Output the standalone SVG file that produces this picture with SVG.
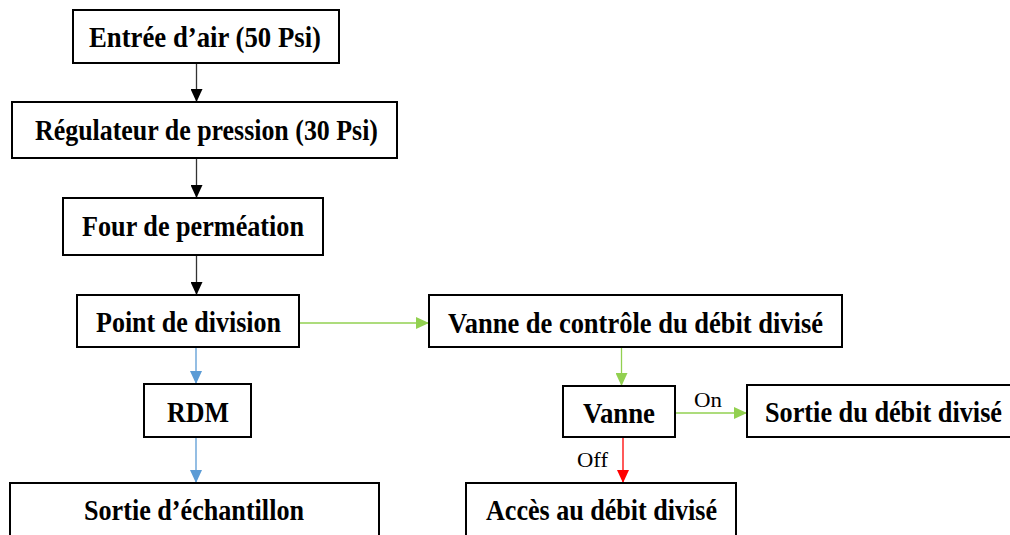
<svg xmlns="http://www.w3.org/2000/svg" width="1010" height="535" viewBox="0 0 1010 535">
<style>
.box{fill:#fff;stroke:#000;stroke-width:2}
.t{font-family:"Liberation Serif","Times New Roman",serif;font-weight:bold;font-size:30px;fill:#000}
.l{font-family:"Liberation Serif","Times New Roman",serif;font-size:21px;fill:#000}
.cb{stroke:#333;stroke-width:1.3;fill:none}
.cg{stroke:#92D050;stroke-width:1.3;fill:none}
.cu{stroke:#5B9BD5;stroke-width:1.3;fill:none}
.cr{stroke:#FF0000;stroke-width:1.3;fill:none}
</style>
<defs>
<marker id="ab" markerUnits="userSpaceOnUse" markerWidth="13" markerHeight="12" refX="13" refY="6" orient="auto"><path d="M0,0 L13,6 L0,12 z" fill="#000"/></marker>
<marker id="ag" markerUnits="userSpaceOnUse" markerWidth="13" markerHeight="12" refX="13" refY="6" orient="auto"><path d="M0,0 L13,6 L0,12 z" fill="#92D050"/></marker>
<marker id="au" markerUnits="userSpaceOnUse" markerWidth="13" markerHeight="12" refX="13" refY="6" orient="auto"><path d="M0,0 L13,6 L0,12 z" fill="#5B9BD5"/></marker>
<marker id="ar" markerUnits="userSpaceOnUse" markerWidth="13" markerHeight="12" refX="13" refY="6" orient="auto"><path d="M0,0 L13,6 L0,12 z" fill="#FF0000"/></marker>
</defs>
<g id="connectors">
<line class="cb" x1="196.5" y1="63" x2="196.5" y2="102" marker-end="url(#ab)"/>
<line class="cb" x1="196.5" y1="158" x2="196.5" y2="198" marker-end="url(#ab)"/>
<line class="cb" x1="196.5" y1="255" x2="196.5" y2="295" marker-end="url(#ab)"/>
<line class="cg" x1="300" y1="323" x2="429" y2="323" marker-end="url(#ag)"/>
<line class="cu" x1="196" y1="347" x2="196" y2="384" marker-end="url(#au)"/>
<line class="cu" x1="196" y1="437" x2="196" y2="483" marker-end="url(#au)"/>
<line class="cg" x1="621.5" y1="347" x2="621.5" y2="386" marker-end="url(#ag)"/>
<line class="cg" x1="675" y1="413" x2="747" y2="413" marker-end="url(#ag)"/>
<line class="cr" x1="623" y1="437" x2="623" y2="483" marker-end="url(#ar)"/>
<text class="l" x="694" y="407" textLength="28" lengthAdjust="spacingAndGlyphs">On</text>
<text class="l" x="577" y="467" textLength="31" lengthAdjust="spacingAndGlyphs">Off</text>
</g>
<g id="n1"><rect class="box" x="73" y="10" width="266" height="53"/><text class="t" x="89" y="47" textLength="232" lengthAdjust="spacingAndGlyphs">Entrée d’air (50 Psi)</text></g>
<g id="n2"><rect class="box" x="12" y="102" width="385" height="56"/><text class="t" x="35" y="140" textLength="343" lengthAdjust="spacingAndGlyphs">Régulateur de pression (30 Psi)</text></g>
<g id="n3"><rect class="box" x="63" y="198" width="260" height="57"/><text class="t" x="82" y="236" textLength="222" lengthAdjust="spacingAndGlyphs">Four de perméation</text></g>
<g id="n4"><rect class="box" x="77" y="295" width="222" height="52"/><text class="t" x="96" y="332" textLength="185" lengthAdjust="spacingAndGlyphs">Point de division</text></g>
<g id="n5"><rect class="box" x="429" y="295" width="413" height="52"/><text class="t" x="448" y="333" textLength="375" lengthAdjust="spacingAndGlyphs">Vanne de contrôle du débit divisé</text></g>
<g id="n6"><rect class="box" x="144" y="384" width="107" height="53"/><text class="t" x="167" y="422" textLength="62" lengthAdjust="spacingAndGlyphs">RDM</text></g>
<g id="n7"><rect class="box" x="563" y="386" width="112" height="51"/><text class="t" x="583" y="423" textLength="72" lengthAdjust="spacingAndGlyphs">Vanne</text></g>
<g id="n8"><rect class="box" x="747" y="385" width="268" height="52"/><text class="t" x="765" y="422" textLength="237" lengthAdjust="spacingAndGlyphs">Sortie du débit divisé</text></g>
<g id="n9"><rect class="box" x="10" y="483" width="369" height="60"/><text class="t" x="84" y="520" textLength="220" lengthAdjust="spacingAndGlyphs">Sortie d’échantillon</text></g>
<g id="n10"><rect class="box" x="466" y="483" width="270" height="60"/><text class="t" x="486" y="520" textLength="231" lengthAdjust="spacingAndGlyphs">Accès au débit divisé</text></g>
</svg>
